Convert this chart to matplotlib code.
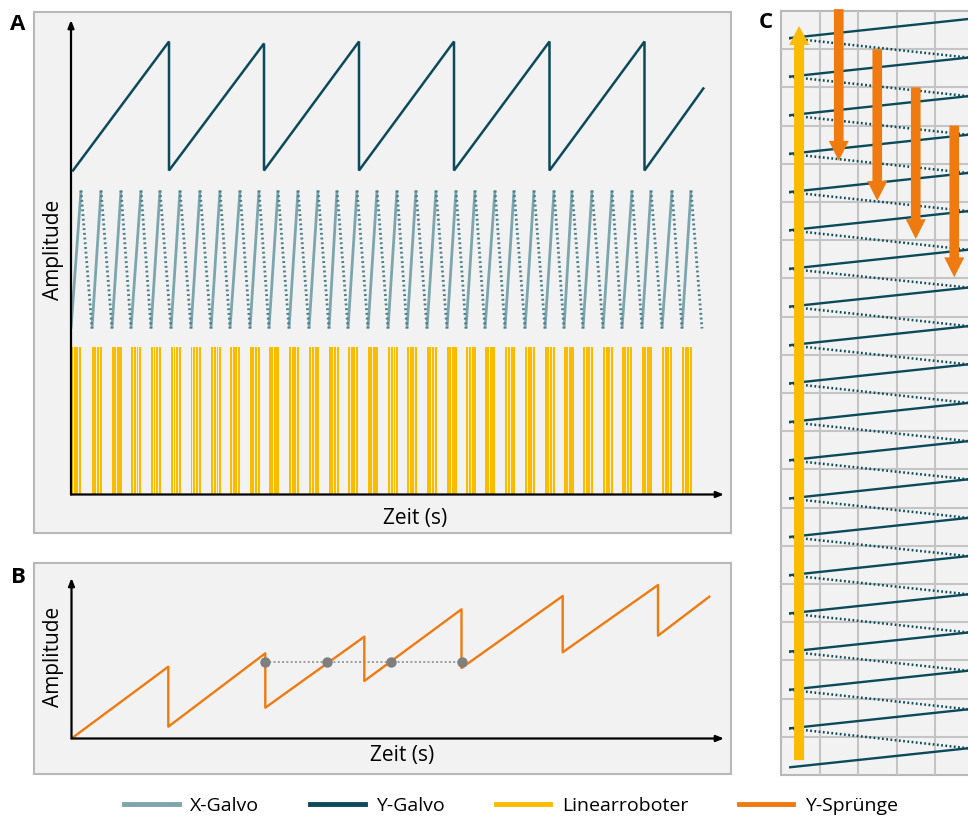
import matplotlib
matplotlib.use("Agg")
import matplotlib.pyplot as plt
from matplotlib.patches import Rectangle, FancyArrow
from matplotlib.collections import LineCollection
from matplotlib.lines import Line2D

plt.rcParams['font.family'] = ['Open Sans', 'DejaVu Sans']

# ------------------------------------------------------------------ data
# Panel A - Y-Galvo sawtooth (time, amplitude)
ygalvo_start_t, ygalvo_start_a = 2, 324
ygalvo_peak_t = [98, 193, 288, 383, 478.5, 573.5]
ygalvo_peak_a = [453, 451, 453, 453, 453, 453]
ygalvo_low = 324
ygalvo_end_t, ygalvo_end_a = 632.3, 406

# Panel A - X-Galvo turning points (fast rise, slow dotted fall)
xgalvo_bottom_t = [0, 21, 41, 60, 80, 100, 120, 140, 159, 179, 198, 218, 238, 258,
                   277, 297, 317, 336, 356, 376, 395, 414, 434, 454, 474, 493, 512,
                   532, 551, 571, 591, 611, 631]
xgalvo_peak_t = [10, 30, 50, 70, 89, 109, 129, 149, 169, 188, 207, 227, 247, 266,
                 286, 306, 326, 345, 365, 385, 404, 424, 443, 463, 483, 501, 521,
                 541, 561, 580, 601, 620]
xgalvo_low, xgalvo_high = 166, 304

# Panel A - Linearroboter: one pulse block per X-Galvo rise, with thin breaks
robot_height = 147.5
robot_block = 10.3
robot_gaps = [
    [2.6, 7.6], [4.6, 7.6], [4.6], [2.6, 5.6, 7.6], [2.6, 4.8, 7.6],
    [2.6, 4.8, 7.6], [1.6, 4.6, 7.6], [2.6, 5.6, 7.6], [2.6, 7.6], [4.6, 7.6],
    [4.6], [2.6, 7.6], [2.6, 5.6], [4.6, 7.6], [2.6, 7.6], [4.6],
    [2.6, 5.6, 7.6], [2.6, 7.6], [4.6, 7.6], [4.6], [2.6, 5.6], [4.6],
    [2.6, 5.6], [2.6, 7.6], [4.6, 7.6], [4.6], [2.6, 7.6], [2.6, 7.6],
    [4.6, 7.6], [4.6], [2.6, 7.6], [2.6, 7.6],
]
robot_gap_width = 0.7

# Panel B - Y-Sprünge trajectory
yjump_t = [0, 96.8, 96.8, 193.8, 193.8, 292.8, 292.8, 390, 390, 491.2, 491.2,
           586.5, 586.5, 637.8]
yjump_a = [0, 71.8, 11.8, 85.2, 30.8, 101.8, 57.5, 129.2, 70.5, 142.5, 86.2,
           153.5, 102.8, 141.8]
marker_t = [193.8, 255.8, 319.5, 390]
marker_a = 76.8

# Panel C - scan lines (grid units: columns / rows)
scan_left_rows = [0.71, 1.72, 2.73, 3.74, 4.74, 5.74, 6.75, 7.74, 8.75, 9.75,
                  10.76, 11.76, 12.76, 13.77, 14.77, 15.77, 16.77, 17.77, 18.78, 19.8]
scan_rise = 0.5
scan_x0, scan_x1 = 0.21, 4.86
robot_arrow_col, robot_arrow_from, robot_arrow_to = 0.47, 19.61, 0.39
jump_cols = [1.5, 2.5, 3.5, 4.5]
jump_start_rows = [-0.05, 1, 2, 3]
jump_length = 3.97

legend_labels = ['X-Galvo', 'Y-Galvo', 'Linearroboter', 'Y-Sprünge']

# ------------------------------------------------------------------ style
C_XG = '#7da5ad'
C_XG_DOT = '#4b7f8b'
C_YG = '#0b4a5a'
C_ROB = '#fbbb00'
C_JUMP = '#ef7a10'
BG = '#f2f2f2'
EDGE = '#b8b8b8'

W, H = 968, 821
fig = plt.figure(figsize=(W / 100, H / 100), dpi=100)
fig.patch.set_facecolor('white')


def px_axes(x0, y0, x1, y1):
    ax = fig.add_axes([x0 / W, 1 - y1 / H, (x1 - x0) / W, (y1 - y0) / H])
    ax.patch.set_visible(False)
    return ax


def panel_box(x0, y0, x1, y1):
    fig.add_artist(Rectangle((x0 / W, 1 - y1 / H), (x1 - x0) / W, (y1 - y0) / H,
                             transform=fig.transFigure, facecolor=BG,
                             edgecolor=EDGE, lw=1.5, zorder=0))


def axis_arrows(ax):
    ax.axis('off')
    props = dict(arrowstyle='-|>,head_length=0.45,head_width=0.18', lw=1.6,
                 color='black', shrinkA=0, shrinkB=0)
    ax.annotate('', xy=(0, 1), xytext=(0, 0), xycoords='axes fraction',
                arrowprops=props, annotation_clip=False)
    ax.annotate('', xy=(1, 0), xytext=(0, 0), xycoords='axes fraction',
                arrowprops=props, annotation_clip=False)


def ftext(x, y, s, **kw):
    fig.text(x / W, 1 - y / H, s, ha='center', va='center', **kw)


panel_box(34, 12, 731, 533)
panel_box(34, 563, 731, 774)
panel_box(781, 11, 980, 775)

# ------------------------------------------------------------------ panel A
axA = px_axes(71, 20, 724, 494.5)
axA.set_xlim(0, 653)
axA.set_ylim(0, 474.5)

# Linearroboter pulses
starts = xgalvo_bottom_t[:len(robot_gaps)]
axA.bar(starts, [robot_height] * len(starts), width=robot_block, align='edge',
        color=C_ROB, linewidth=0, zorder=2)
gx = [t0 + g for t0, gaps in zip(starts, robot_gaps) for g in gaps]
axA.bar(gx, [robot_height] * len(gx), width=robot_gap_width, align='center',
        color='#fbf1d2', linewidth=0, zorder=2.5)

# X-Galvo
rise = [[(b, xgalvo_low), (p, xgalvo_high)] for b, p in zip(xgalvo_bottom_t, xgalvo_peak_t)]
fall = [[(p, xgalvo_high), (b, xgalvo_low)] for p, b in zip(xgalvo_peak_t, xgalvo_bottom_t[1:])]
axA.add_collection(LineCollection(rise, colors=C_XG, linewidths=2.0, zorder=3))
axA.add_collection(LineCollection(fall, colors=C_XG_DOT, linewidths=2.0,
                                  linestyles=[(0, (0.7, 1.0))], zorder=3))

# Y-Galvo
yt, ya = [ygalvo_start_t], [ygalvo_start_a]
for pt, pa in zip(ygalvo_peak_t, ygalvo_peak_a):
    yt += [pt, pt]
    ya += [pa, ygalvo_low]
yt.append(ygalvo_end_t)
ya.append(ygalvo_end_a)
axA.plot(yt, ya, color=C_YG, lw=1.8, zorder=4, solid_joinstyle='miter')
axis_arrows(axA)

# ------------------------------------------------------------------ panel B
axB = px_axes(71.5, 578, 724, 738.5)
axB.set_xlim(0, 652.5)
axB.set_ylim(0, 160.5)
axB.plot([marker_t[0], marker_t[-1]], [marker_a, marker_a], color='#9a9a9a',
         lw=1.4, ls=(0, (1, 1.2)), zorder=2)
axB.plot(yjump_t, yjump_a, color=C_JUMP, lw=1.7, zorder=3)
axB.plot(marker_t, [marker_a] * len(marker_t), 'o', color='#7f7f7f', ms=7.5,
         mec='none', zorder=4)
axis_arrows(axB)

# ------------------------------------------------------------------ panel C
axC = px_axes(781, 11, 968, 775)
axC.set_xlim(0, 187 / 38.5)
axC.set_ylim(20, 0)
axC.set_xticks(range(1, 5))
axC.set_yticks(range(1, 20))
axC.grid(True, color='#c4c4c4', lw=1.5)
axC.tick_params(length=0, labelbottom=False, labelleft=False)
for sp in axC.spines.values():
    sp.set_visible(False)
axC.set_axisbelow(True)

solid = [[(scan_x0, r), (scan_x1, r - scan_rise)] for r in scan_left_rows]
dotted = [[(scan_x0, r), (scan_x1, rn - scan_rise)]
          for r, rn in zip(scan_left_rows[:-1], scan_left_rows[1:])]
axC.add_collection(LineCollection(solid, colors=C_YG, linewidths=1.7, zorder=3))
axC.add_collection(LineCollection(dotted, colors=C_YG, linewidths=1.8,
                                  linestyles=[(0, (0.7, 1.0))], zorder=3))

axC.add_patch(FancyArrow(robot_arrow_col, robot_arrow_from, 0,
                         robot_arrow_to - robot_arrow_from, width=0.26,
                         head_width=0.52, head_length=0.5,
                         length_includes_head=True, color=C_ROB, lw=0, zorder=5))
for c, r in zip(jump_cols, jump_start_rows):
    axC.add_patch(FancyArrow(c, r, 0, jump_length, width=0.25, head_width=0.52,
                             head_length=0.52, length_includes_head=True,
                             color=C_JUMP, lw=0, zorder=6, clip_on=False))

# ------------------------------------------------------------------ text
ftext(18, 25, 'A', fontsize=16, fontweight='bold')
ftext(18, 577, 'B', fontsize=16, fontweight='bold')
ftext(766, 22, 'C', fontsize=16, fontweight='bold')
ftext(53, 250, 'Amplitude', fontsize=15, rotation=90)
ftext(415, 518, 'Zeit (s)', fontsize=15)
ftext(53, 657, 'Amplitude', fontsize=15, rotation=90)
ftext(402, 755, 'Zeit (s)', fontsize=15)

handles = [Line2D([], [], color=c, lw=3.5) for c in (C_XG, C_YG, C_ROB, C_JUMP)]
fig.legend(handles, legend_labels, loc='center', bbox_to_anchor=(511 / W, 1 - 806 / H),
           ncol=4, frameon=False, fontsize=14, handlelength=2.8,
           handletextpad=0.6, columnspacing=2.6)

fig.savefig('out.png', dpi=100, facecolor='white')
